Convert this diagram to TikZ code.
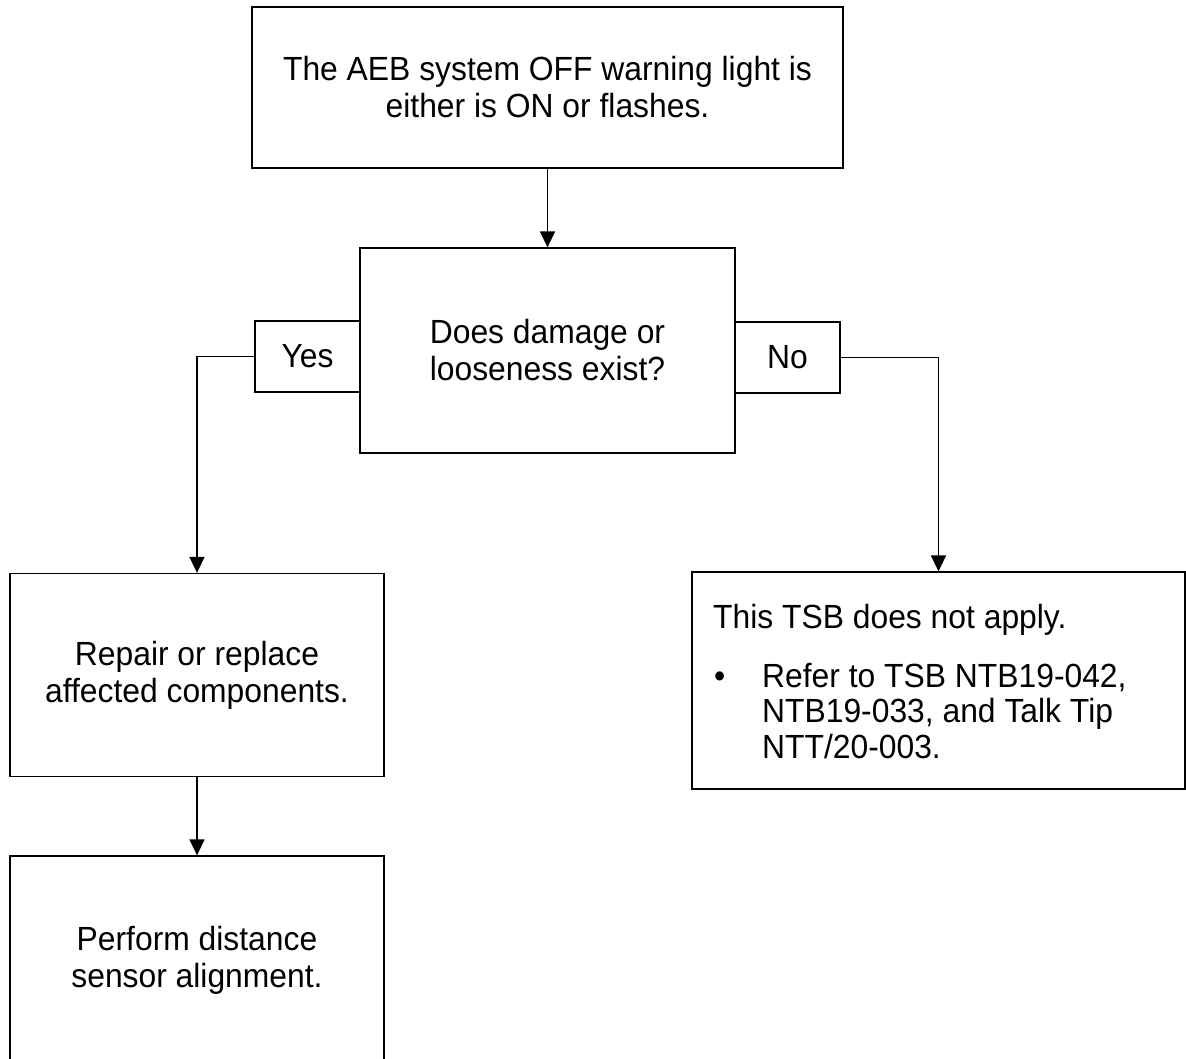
\documentclass[tikz,border=0pt]{standalone}
\usepackage{fontspec}
\setmainfont[FakeStretch=0.95]{Liberation Sans}
\usetikzlibrary{arrows.meta}
\begin{document}
\begin{tikzpicture}[x=1pt,y=-1pt,
  box/.style={draw=black,line width=1.3pt,rectangle,inner sep=0pt,align=center,
    font=\fontsize{33.5}{37}\selectfont},
  txt/.style={inner sep=0pt,align=center,font=\fontsize{33.5}{37}\selectfont},
  conn/.style={line width=1.6pt,-{Triangle[length=16pt,width=15pt]}}]
\clip (0,0) rectangle (1186,1059);
\fill[white] (0,0) rectangle (1186,1059);
% boxes
\node[box,minimum width=591pt,minimum height=161pt] (top) at (547.5,87.5)
  {The AEB system OFF warning light is\\either is ON or flashes.};
\node[box,minimum width=375pt,minimum height=205pt] (dec) at (547.5,350.5)
  {Does damage or\\looseness exist?};
\node[box,minimum width=105pt,minimum height=71pt] (yes) at (307.5,356.5) {Yes};
\node[box,minimum width=105pt,minimum height=71pt] (no) at (787.5,357.5) {No};
\node[box,minimum width=374pt,minimum height=203pt] (left) at (197,675)
  {Repair or replace\\affected components.};
\node[box,minimum width=493pt,minimum height=217pt] (right) at (938.5,680.5) {};
\node[txt,anchor=north west,align=left] (righttext) at (713,604)
  {This TSB does not apply.\\[22pt]
   \makebox[49pt][l]{\hspace{1pt}\textbullet}Refer to TSB NTB19-042,\\[-1.5pt]
   \hspace*{49pt}NTB19-033, and Talk Tip\\[-1.5pt]
   \hspace*{49pt}NTT/20-003.};
\node[box,minimum width=374pt,minimum height=206pt] (bottom) at (197,959) {};
\node[txt] (bottomtext) at (197,960) {Perform distance\\sensor alignment.};
% connectors
\draw[conn] (top.south) -- (dec.north);
\draw[conn] (yes.west) -| (left.north);
\draw[conn] (no.east) -| (right.north);
\draw[conn] (left.south) -- (bottom.north);
\end{tikzpicture}
\end{document}
